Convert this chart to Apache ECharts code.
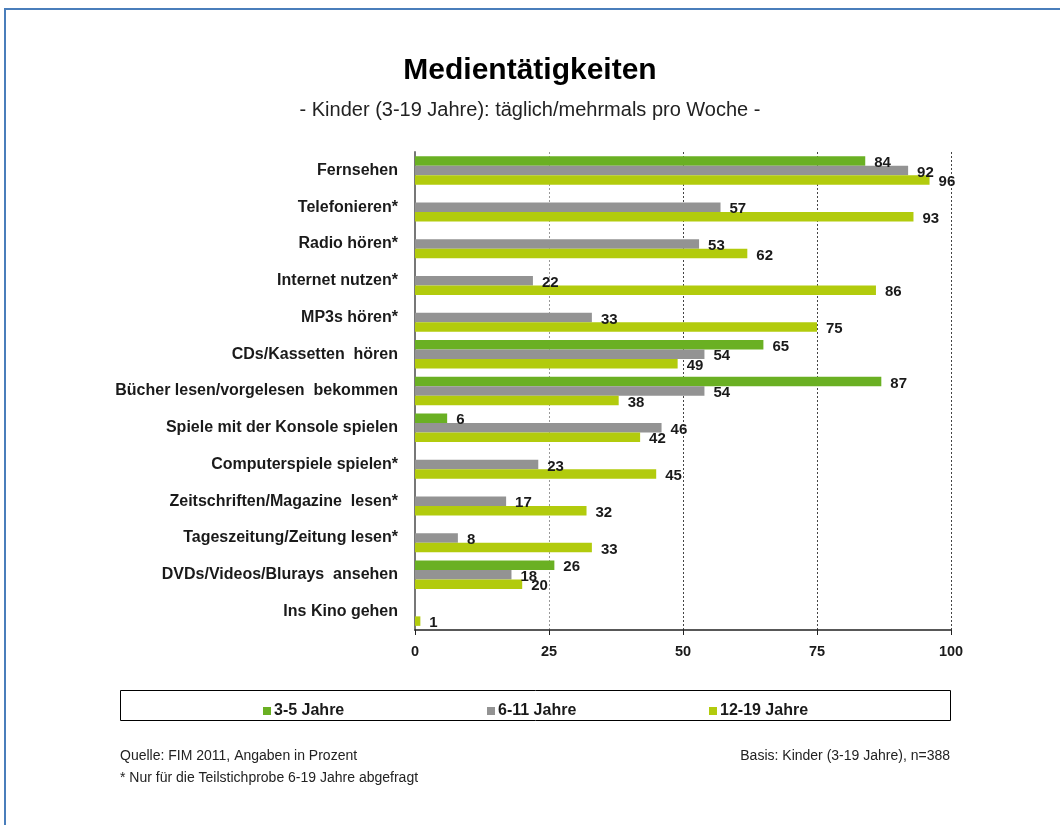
<!DOCTYPE html>
<html><head><meta charset="utf-8">
<script src="https://cdn.jsdelivr.net/npm/echarts@6/dist/echarts.min.js"></script>
<style>html,body{margin:0;padding:0;background:#fff}#c{width:1060px;height:825px}</style>
</head><body><div id="c"></div>
<script>
const categories = ['Fernsehen','Telefonieren*','Radio hören*','Internet nutzen*','MP3s hören*','CDs/Kassetten  hören','Bücher lesen/vorgelesen  bekommen','Spiele mit der Konsole spielen','Computerspiele spielen*','Zeitschriften/Magazine  lesen*','Tageszeitung/Zeitung lesen*','DVDs/Videos/Blurays  ansehen','Ins Kino gehen'];
const seriesNames = ['3-5 Jahre','6-11 Jahre','12-19 Jahre'];
const kids3to5 = [84,null,null,null,null,65,87,6,null,null,null,26,null];
const kids6to11 = [92,57,53,22,33,54,54,46,23,17,8,18,null];
const kids12to19 = [96,93,62,86,75,49,38,42,45,32,33,20,1];
const xTicks = [0,25,50,75,100];
const colors = ['#6ab023','#939393','#b2cb0d'];

const font = "'Liberation Sans', Arial, sans-serif";
const chart = echarts.init(document.getElementById('c'), null, {renderer:'canvas'});
const mkSeries = (name, data, color) => ({
  name, type:'bar', data, barWidth:9.5, barGap:'0%', barCategoryGap:'24%',
  itemStyle:{color}, animation:false,
  label:{show:true, position:'right', distance:9, offset:[0,2], color:'#1a1a1a',
    fontFamily:font, fontWeight:'bold', fontSize:15,
    formatter:p => p.value == null ? '' : p.value}
});
const legendLefts = [258, 482, 704];
chart.setOption({
  animation:false,
  title:[{text:'Medientätigkeiten', left:'center', top:51,
    textStyle:{fontFamily:font, fontWeight:'bold', fontSize:30, color:'#000'}},
    {text:'- Kinder (3-19 Jahre): täglich/mehrmals pro Woche -', left:'center', top:95,
    textStyle:{fontFamily:font, fontWeight:'normal', fontSize:20, color:'#222'}}],
  grid:{left:415, right:109, top:152, bottom:195, containLabel:false},
  xAxis:{type:'value', min:0, max:100, interval:25,
    axisLine:{show:true, lineStyle:{color:'#222', width:1.5}},
    axisTick:{show:true, length:5, lineStyle:{color:'#222'}},
    axisLabel:{fontFamily:font, fontWeight:'bold', fontSize:14.5, color:'#1a1a1a', margin:14,
      formatter:v => xTicks.includes(v) ? String(v) : ''},
    splitLine:{show:true, lineStyle:{type:[2,2], color:['#444','#999','#444','#444','#444'], width:1}}},
  yAxis:{type:'category', data:categories, inverse:true,
    axisLine:{show:true, lineStyle:{color:'#777', width:2}},
    axisTick:{show:false},
    axisLabel:{fontFamily:font, fontWeight:'bold', fontSize:16, color:'#1a1a1a', margin:17}},
  legend: seriesNames.map((n,i) => ({data:[n], left:legendLefts[i], top:698, itemWidth:8, itemHeight:8,
    icon:'rect', itemGap:4, textStyle:{fontFamily:font, fontWeight:'bold', fontSize:16, color:'#1a1a1a', padding:[0,0,0,-2]}})),
  series:[mkSeries(seriesNames[0], kids3to5, colors[0]),
          mkSeries(seriesNames[1], kids6to11, colors[1]),
          mkSeries(seriesNames[2], kids12to19, colors[2])],
  graphic:[
    {type:'rect', shape:{x:5, y:9, width:1200, height:1000}, style:{fill:'none', stroke:'#4a7ebb', lineWidth:2}, silent:true},
    {type:'rect', shape:{x:120.5, y:690.5, width:830, height:30}, style:{fill:'none', stroke:'#000', lineWidth:1}, silent:true},
    {type:'text', left:120, top:749, style:{text:'Quelle: FIM 2011, Angaben in Prozent', font:'14px '+font, fill:'#222'}},
    {type:'text', left:120, top:771, style:{text:'* Nur für die Teilstichprobe 6-19 Jahre abgefragt', font:'14px '+font, fill:'#222'}},
    {type:'text', right:110, top:749, style:{text:'Basis: Kinder (3-19 Jahre), n=388', font:'14px '+font, fill:'#222'}}
  ]
});
</script></body></html>
